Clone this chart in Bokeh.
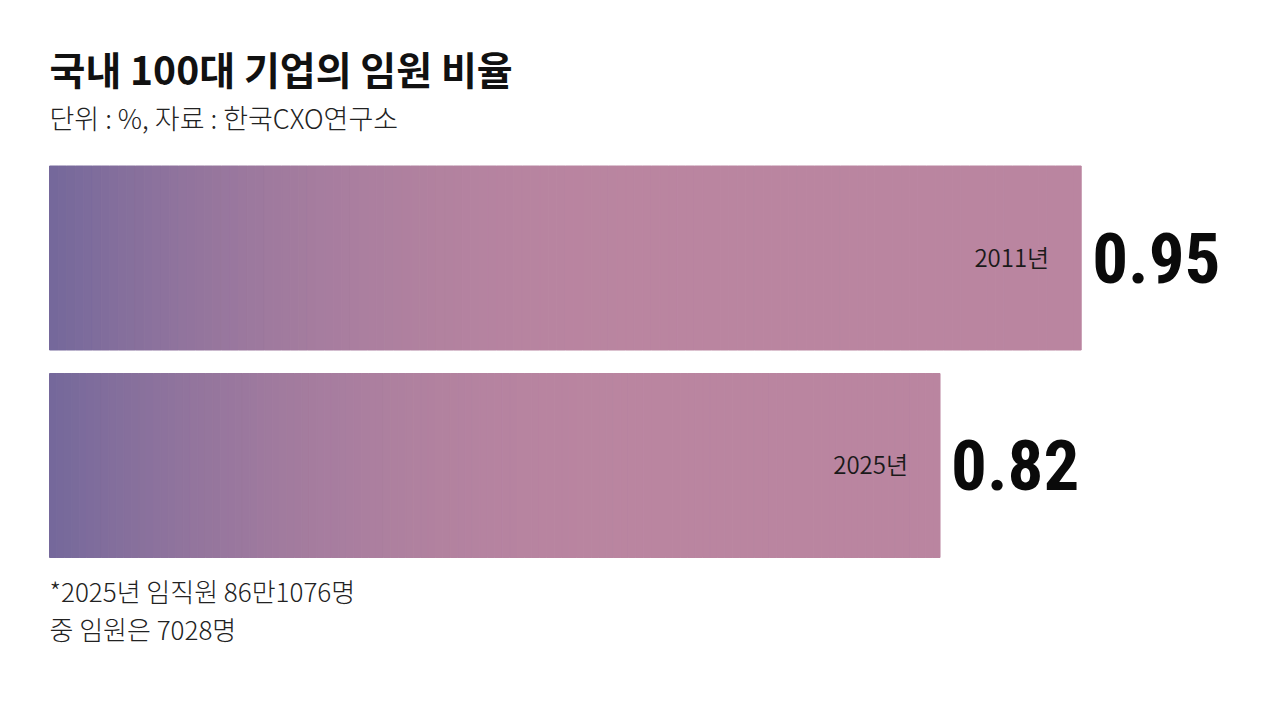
import numpy as np
from bokeh.plotting import figure
from bokeh.models import Range1d, ColumnDataSource
from bokeh.core.properties import value
from bokeh.embed import file_html
from bokeh.resources import INLINE

# ---- data ----
years = ["2011년", "2025년"]
ratios = [0.95, 0.82]
value_labels = ["0.95", "0.82"]
title_text = "국내 100대 기업의 임원 비율"
subtitle_text = "단위 : %, 자료 : 한국CXO연구소"
note_lines = ["*2025년 임직원 86만1076명", "중 임원은 7028명"]

# ---- layout ----
W, H = 1263, 692
PX_PER_UNIT = 1086.0
LEFT = 49.0
bar_centers = [257.5, 465.0]   # pixels from top
bar_height = 184.0

p = figure(width=W, height=H, output_backend="svg", toolbar_location=None,
           x_range=Range1d(-LEFT / PX_PER_UNIT, (W - LEFT) / PX_PER_UNIT),
           y_range=Range1d(H, 0), min_border=0)
p.axis.visible = False
p.grid.visible = False
p.outline_line_color = None
p.background_fill_color = "white"
p.border_fill_color = "white"

c0 = np.array([116, 104, 155], dtype=float)
c1 = np.array([186, 133, 160], dtype=float)

def grad_color(x):
    t = min(1.0, max(0.0, x / 0.58))
    e = 1 - (1 - t) ** 2.2
    c = c0 + (c1 - c0) * e
    return "#%02x%02x%02x" % tuple(int(round(v)) for v in c)

N = 120
lefts, rights, tops, bottoms, colors = [], [], [], [], []
for yc, v in zip(bar_centers, ratios):
    for k in range(N):
        lefts.append(v * k / N)
        rights.append(v * (k + 1) / N)
        tops.append(yc - bar_height / 2)
        bottoms.append(yc + bar_height / 2)
        colors.append(grad_color(v * (k + 0.5) / N))
src = ColumnDataSource(dict(left=lefts, right=rights, top=tops, bottom=bottoms, color=colors))
p.quad(left="left", right="right", top="top", bottom="bottom", source=src,
       fill_color="color", line_color="color", line_width=1)

KR = "Noto Sans CJK KR"
KR_LIGHT = "Noto Sans CJK KR Light, Noto Sans CJK KR"
KR_DEMI = "Noto Sans CJK KR DemiLight, Noto Sans CJK KR"

# year labels inside bars
p.text(x=ratios, y=[c - 2 for c in bar_centers], text=years, x_offset=-32, text_align="right",
       text_baseline="middle", text_font=value(KR_DEMI),
       text_font_size="24px", text_color="#1a1a1a")

# value labels
p.text(x=ratios, y=[c - 0.5 for c in bar_centers], text=value_labels, x_offset=11,
       text_align="left", text_baseline="alphabetic",
       text_font=value("Roboto Condensed, Roboto"), text_font_style="bold",
       text_font_size="71px", text_color="#0a0a0a")

# title / subtitle
p.text(x=[0], y=[67], text=[title_text], text_align="left", text_baseline="middle",
       text_font=value(KR), text_font_style="bold",
       text_font_size="39px", text_color="#111111")
p.text(x=[0], y=[117], text=[subtitle_text], text_align="left", text_baseline="middle",
       text_font=value(KR_LIGHT), text_font_size="27px",
       text_color="#222222")

# footnote
p.text(x=[0, 0], y=[590, 628], text=note_lines, text_align="left",
       text_baseline="middle", text_font=value(KR_LIGHT),
       text_font_size="26px", text_color="#222222")

open("out.html", "w").write(file_html(p, INLINE))
